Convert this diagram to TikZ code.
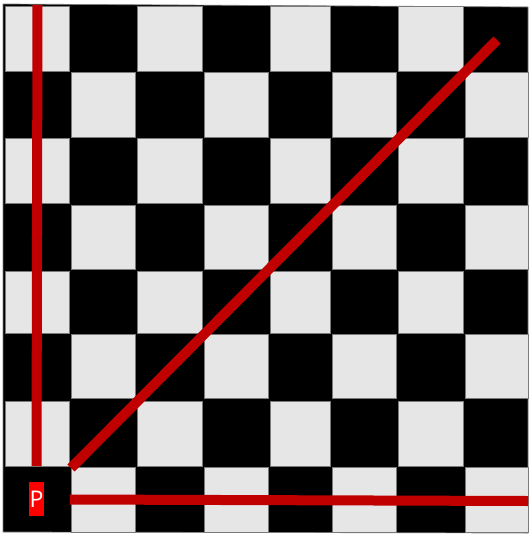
\documentclass[tikz,border=0pt]{standalone}
\usepackage{fontspec}
\setmainfont{Open Sans}
\definecolor{lightsq}{HTML}{E6E6E6}
\definecolor{edgegray}{HTML}{7A7A7A}
\definecolor{darkred}{HTML}{C00000}
\definecolor{brightred}{HTML}{FF0000}
\tikzset{
  lightcell/.style={fill=lightsq, draw=edgegray, line width=0.7pt},
  board/.style={fill=black, draw=edgegray, line width=0.7pt},
  redline/.style={draw=darkred, line width=10pt, line cap=butt},
  plabel/.style={fill=brightred, text=white, inner sep=0pt, minimum width=15pt, minimum height=34pt, font=\fontsize{23}{23}\selectfont}
}
\begin{document}
\begin{tikzpicture}[x=1pt,y=-1pt]
\useasboundingbox (0,0) rectangle (528,538);
\fill[white] (0,0) rectangle (528,538);
\draw[board] (3,4) -- (528,7) -- (528,533) -- (3,532) -- cycle;
\def\xl{{5,71,137,204,270,332,398,465}}
\def\xr{{69,135,202,268,330,396,463,528}}
\def\yt{{6,72,138,205,271,334,401,467}}
\def\yb{{71,137,203,269,333,398,466,532}}
\foreach \r in {0,...,7}{
  \foreach \c in {0,2,4,6}{
    \pgfmathtruncatemacro\cc{\c+mod(\r,2)}
    \pgfmathsetmacro\ax{\xl[\cc]}
    \pgfmathsetmacro\bx{\xr[\cc]}
    \pgfmathsetmacro\ay{\yt[\r]}
    \pgfmathsetmacro\by{\yb[\r]}
    \draw[lightcell] (\ax,\ay) rectangle (\bx,\by);
  }
}
\coordinate (vtop) at (37.5,5);
\coordinate (vbot) at (36.5,466);
\coordinate (dlow) at (71,468);
\coordinate (dhigh) at (497,40);
\coordinate (hleft) at (70,499.5);
\coordinate (hright) at (528,501);
\draw[redline] (vtop) -- (vbot);
\draw[redline] (dlow) -- (dhigh);
\draw[redline] (hleft) -- (hright);
\node[plabel] (P) at (36.5,499) {P};
\end{tikzpicture}
\end{document}
